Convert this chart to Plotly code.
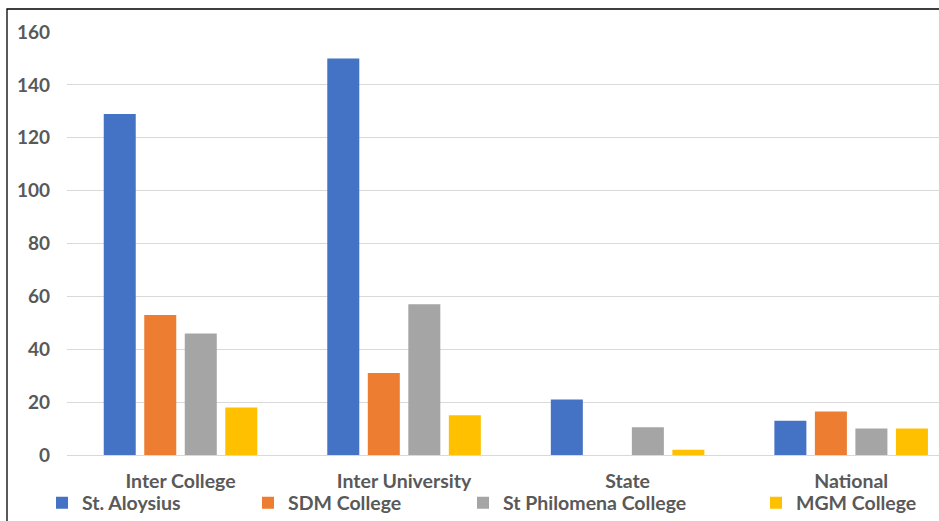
import plotly.graph_objects as go

categories = ["Inter College", "Inter University", "State", "National"]
st_aloysius = [129, 150, 21, 13]
sdm_college = [53, 31, 0, 16.5]
st_philomena = [46, 57, 10.5, 10]
mgm_college = [18, 15, 2, 10]

series = [
    ("St. Aloysius", st_aloysius, "#4472C4"),
    ("SDM College", sdm_college, "#ED7D31"),
    ("St Philomena College", st_philomena, "#A5A5A5"),
    ("MGM College", mgm_college, "#FFC000"),
]

W, H = 939, 521
L, R, T, B = 67, 0, 32, 66
FONT = "Lato"
TXT = "#595959"
plot_w = W - L - R
plot_h = H - T - B

legend_names = ["legend", "legend2", "legend3", "legend4"]
legend_px = [42, 248, 463, 756]

fig = go.Figure()
for (name, vals, col), lg in zip(series, legend_names):
    fig.add_trace(go.Bar(
        x=categories, y=vals, name=name,
        marker=dict(color=col, line=dict(width=0)),
        legend=lg,
    ))

layout = dict(
    width=W, height=H,
    margin=dict(l=L, r=R, t=T, b=B, pad=0, autoexpand=False),
    paper_bgcolor="white", plot_bgcolor="white",
    barmode="group", bargap=0.275, bargroupgap=0.21,
    font=dict(family=FONT, size=19, color=TXT, weight="bold"),
    xaxis=dict(
        range=[-0.5078, 3.393], showgrid=False, zeroline=False, showline=False,
        ticks="", ticklabelstandoff=12,
        tickfont=dict(family=FONT, size=19.5, color=TXT, weight="bold"),
    ),
    yaxis=dict(
        range=[0, 160], dtick=20, showgrid=True, gridcolor="#D9D9D9", gridwidth=1,
        zeroline=True, zerolinecolor="#D9D9D9", zerolinewidth=1, showline=False,
        ticks="", ticklabelstandoff=16,
        tickfont=dict(family=FONT, size=19, color=TXT, weight="bold"),
    ),
    showlegend=True,
)
for lg, px in zip(legend_names, legend_px):
    layout[lg] = dict(
        xref="paper", yref="paper",
        x=(px - L) / plot_w, y=(H - B - 503) / plot_h,
        xanchor="left", yanchor="middle",
        orientation="h", bgcolor="rgba(0,0,0,0)", borderwidth=0,
        font=dict(family=FONT, size=19.5, color=TXT, weight="bold"),
        itemwidth=30,
    )
fig.update_layout(**layout)

fig.add_shape(
    type="rect", xref="paper", yref="paper",
    x0=(7 - L) / plot_w, x1=1.2,
    y0=-0.3, y1=1 + (T - 9) / plot_h,
    line=dict(color="#000000", width=1.3), fillcolor="rgba(0,0,0,0)",
    layer="above",
)

fig.write_html("out.html")
